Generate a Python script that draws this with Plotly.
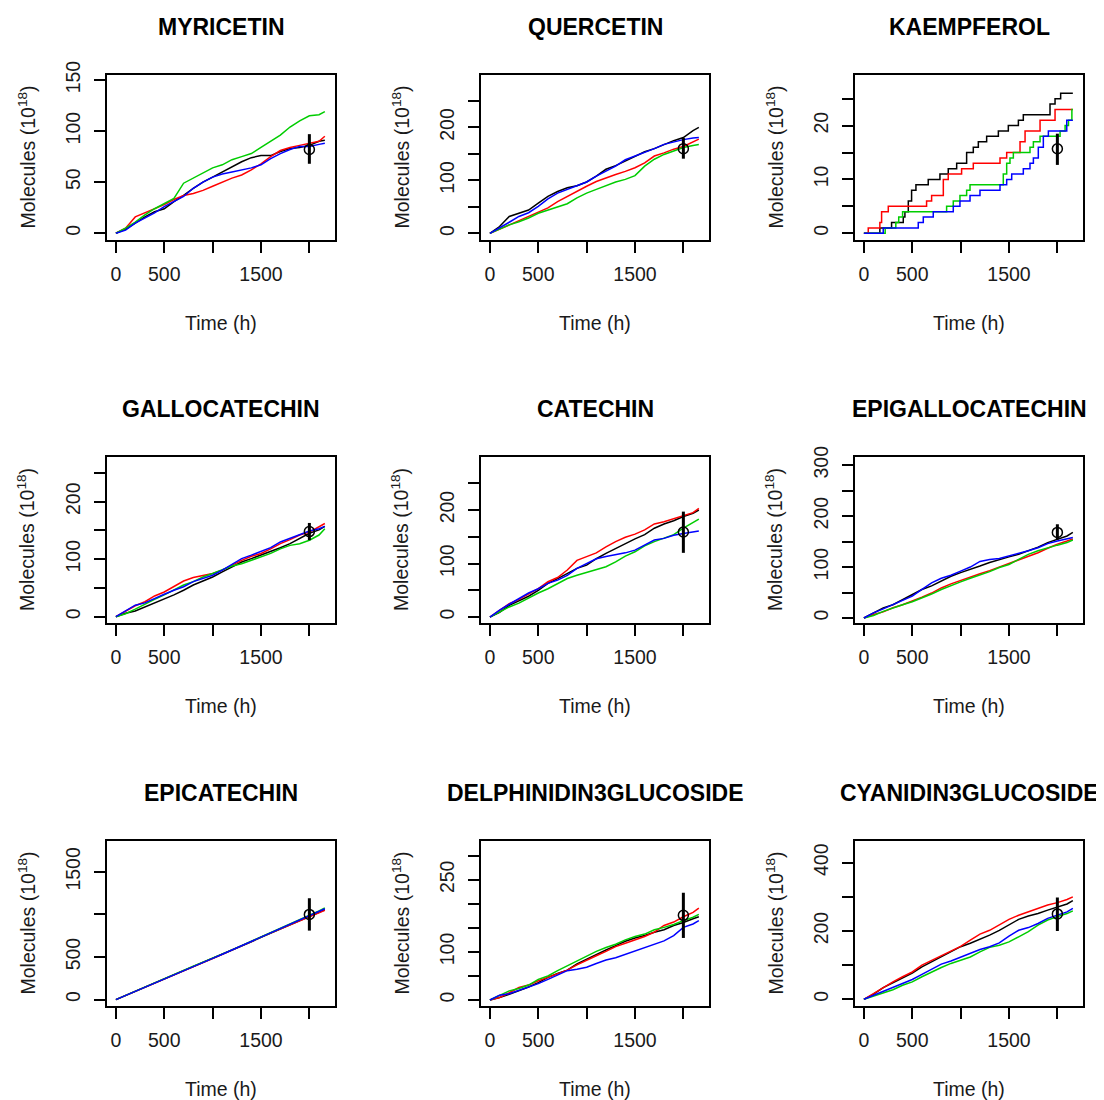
import plotly.graph_objects as go

# ---------------- data ----------------
compounds = ["MYRICETIN", "QUERCETIN", "KAEMPFEROL",
             "GALLOCATECHIN", "CATECHIN", "EPIGALLOCATECHIN",
             "EPICATECHIN", "DELPHINIDIN3GLUCOSIDE", "CYANIDIN3GLUCOSIDE"]

time_h = [0, 100, 200, 300, 400, 500, 600, 700, 800, 900, 1000, 1100,
          1200, 1300, 1400, 1500, 1600, 1700, 1800, 1900, 2000, 2100, 2160]

myricetin_black = [0, 4, 10, 16, 21, 24, 31, 37, 44, 50, 55, 60, 65, 70, 74, 76, 76, 80, 83, 84, 86, 90, 91]
myricetin_red   = [0, 5, 16, 20, 24, 28, 33, 37, 39, 42, 46, 50, 54, 57, 62, 68, 75, 81, 84, 86, 88, 90, 95]
myricetin_green = [0, 5, 11, 18, 24, 29, 34, 49, 54, 59, 64, 67, 72, 75, 78, 84, 90, 96, 104, 110, 115, 116, 119]
myricetin_blue  = [0, 3, 10, 15, 20, 26, 31, 36, 44, 50, 55, 58, 60, 62, 64, 67, 73, 78, 82, 85, 85, 87, 88]

quercetin_black = [0, 13, 32, 38, 44, 57, 70, 79, 86, 90, 97, 108, 121, 128, 137, 146, 154, 160, 168, 175, 181, 194, 200]
quercetin_red   = [0, 8, 16, 24, 32, 39, 48, 60, 70, 79, 89, 98, 105, 111, 117, 124, 133, 146, 152, 159, 164, 173, 178]
quercetin_green = [0, 8, 16, 22, 29, 38, 44, 51, 56, 67, 76, 83, 90, 97, 102, 109, 127, 140, 149, 156, 162, 166, 168]
quercetin_blue  = [0, 10, 21, 32, 39, 51, 65, 76, 83, 89, 97, 108, 117, 127, 139, 146, 152, 160, 168, 173, 177, 180, 181]

# kaempferol: integer step counts (time of change, new value)
kaempferol_black_t = [0, 165, 286, 407, 424, 459, 493, 538, 665, 786, 872, 959, 1062, 1131, 1183, 1269, 1390, 1493, 1597, 1648, 1924, 1976, 2034, 2160]
kaempferol_black_v = [0, 1, 2, 3, 4, 6, 8, 9, 10, 11, 12, 13, 15, 16, 17, 18, 19, 20, 21, 22, 24, 25, 26, 26]
kaempferol_red_t = [0, 45, 165, 183, 252, 648, 700, 821, 872, 1010, 1131, 1407, 1476, 1614, 1666, 1821, 1976, 2160]
kaempferol_red_v = [0, 1, 2, 4, 5, 6, 7, 10, 11, 12, 13, 14, 15, 17, 19, 21, 23, 23]
kaempferol_green_t = [0, 220, 330, 360, 400, 855, 924, 993, 1062, 1097, 1441, 1476, 1510, 1545, 1717, 1752, 1821, 2028, 2080, 2115, 2150, 2160]
kaempferol_green_v = [0, 1, 2, 3, 4, 5, 6, 7, 8, 9, 11, 13, 14, 15, 16, 17, 18, 19, 20, 21, 23, 23]
kaempferol_blue_t = [0, 200, 562, 614, 665, 717, 924, 993, 1097, 1200, 1407, 1476, 1528, 1648, 1717, 1752, 1803, 1855, 1907, 2097, 2160]
kaempferol_blue_v = [0, 1, 2, 3, 3, 4, 5, 6, 7, 8, 9, 10, 11, 12, 13, 14, 16, 18, 19, 21, 21]

gallocatechin_black = [0, 6, 10, 17, 24, 30, 38, 46, 55, 62, 69, 78, 87, 95, 101, 107, 113, 120, 127, 136, 145, 151, 157]
gallocatechin_red   = [0, 9, 19, 26, 36, 43, 52, 62, 68, 71, 75, 81, 90, 98, 105, 110, 118, 127, 134, 142, 147, 156, 162]
gallocatechin_green = [0, 5, 13, 22, 30, 38, 47, 55, 61, 69, 75, 82, 88, 92, 98, 103, 110, 118, 124, 127, 133, 142, 153]
gallocatechin_blue  = [0, 10, 20, 24, 32, 39, 46, 52, 61, 66, 72, 81, 91, 101, 107, 113, 120, 130, 136, 143, 149, 153, 157]

catechin_black = [0, 9, 22, 30, 39, 50, 63, 72, 81, 91, 97, 109, 119, 128, 138, 146, 154, 166, 174, 180, 188, 194, 200]
catechin_red   = [0, 13, 25, 33, 43, 53, 66, 74, 88, 106, 113, 120, 131, 141, 149, 155, 163, 174, 178, 184, 189, 195, 203]
catechin_green = [0, 9, 19, 26, 36, 45, 53, 63, 72, 78, 83, 88, 94, 103, 114, 122, 133, 141, 147, 154, 166, 176, 183]
catechin_blue  = [0, 13, 24, 34, 45, 53, 63, 69, 78, 91, 100, 109, 113, 116, 120, 125, 134, 144, 147, 153, 156, 159, 161]

epigallocatechin_black = [0, 10, 20, 26, 36, 46, 56, 63, 72, 82, 89, 95, 102, 109, 115, 120, 125, 132, 139, 148, 155, 161, 168]
epigallocatechin_red   = [0, 7, 12, 20, 26, 33, 41, 49, 59, 67, 74, 80, 87, 93, 100, 107, 115, 122, 128, 137, 145, 151, 155]
epigallocatechin_green = [0, 5, 13, 20, 26, 32, 39, 47, 56, 64, 71, 78, 84, 91, 99, 105, 115, 125, 132, 138, 143, 148, 153]
epigallocatechin_blue  = [0, 10, 18, 26, 34, 43, 56, 69, 78, 84, 92, 100, 111, 115, 117, 122, 126, 132, 138, 146, 151, 155, 158]

epicatechin_black = [0, 48, 95, 143, 194, 246, 292, 340, 386, 432, 480, 528, 578, 628, 680, 732, 782, 830, 880, 930, 975, 1025, 1055]
epicatechin_red   = [0, 49, 97, 146, 197, 248, 296, 345, 390, 436, 482, 530, 580, 630, 681, 733, 782, 829, 877, 925, 972, 1018, 1047]
epicatechin_green = [0, 50, 98, 148, 198, 250, 298, 346, 393, 440, 486, 534, 584, 634, 684, 735, 785, 834, 884, 934, 982, 1040, 1078]
epicatechin_blue  = [0, 49, 97, 146, 196, 248, 296, 344, 391, 438, 484, 532, 582, 632, 683, 734, 784, 833, 882, 932, 980, 1035, 1066]

delphinidin_black = [0, 5, 12, 19, 27, 36, 47, 55, 62, 75, 85, 94, 104, 113, 122, 129, 134, 141, 146, 155, 161, 169, 173]
delphinidin_red   = [0, 5, 15, 26, 31, 40, 47, 54, 62, 73, 83, 92, 101, 111, 118, 125, 132, 141, 155, 162, 173, 182, 191]
delphinidin_green = [0, 10, 19, 24, 31, 43, 50, 61, 71, 81, 90, 101, 109, 116, 125, 132, 137, 146, 151, 157, 165, 172, 178]
delphinidin_blue  = [0, 10, 13, 20, 26, 34, 43, 52, 61, 64, 68, 76, 83, 88, 95, 101, 109, 116, 123, 134, 151, 158, 165]

cyanidin_black = [0, 15, 34, 49, 64, 77, 95, 110, 126, 139, 154, 164, 175, 188, 202, 217, 234, 244, 251, 261, 269, 279, 289]
cyanidin_red   = [0, 17, 36, 51, 66, 80, 100, 114, 129, 142, 155, 173, 191, 202, 217, 234, 246, 256, 266, 276, 283, 292, 300]
cyanidin_green = [0, 9, 19, 28, 41, 51, 66, 80, 93, 105, 114, 124, 139, 152, 158, 168, 183, 198, 217, 232, 242, 251, 259]
cyanidin_blue  = [0, 12, 22, 36, 48, 58, 73, 87, 103, 112, 124, 136, 146, 154, 165, 185, 202, 210, 222, 237, 246, 256, 266]

# observed value at t = 2000 h: mean, lower, upper
obs_time = 2000
obs_mean = [82, 160, 15.7, 148, 159, 168, 1000, 176, 250]
obs_low  = [68, 141, 12.7, 133, 120, 154, 810, 129, 200]
obs_high = [97, 180, 18.5, 163, 197, 184, 1190, 223, 298]

# labelled ticks; unlabelled ticks come from the tick step
x_tickvals = [0, 500, 1500]
x_tick_step = 500
y_tickvals = [
    [0, 50, 100, 150],
    [0, 100, 200],
    [0, 10, 20],
    [0, 100, 200],
    [0, 100, 200],
    [0, 100, 200, 300],
    [0, 500, 1500],
    [0, 100, 250],
    [0, 200, 400],
]
y_tick_step = [50, 50, 5, 50, 50, 50, 500, 50, 100]
y_ranges = [
    [-6.6, 154.9], [-12.5, 299.0], [-1.25, 29.4],
    [-11.0, 277.7], [-11.0, 299.0], [-9.8, 316.0],
    [-75, 1862], [-12.5, 330.6], [-19.6, 463.4],
]
x_range = [-92, 2265]

series = [
    (myricetin_black, myricetin_red, myricetin_green, myricetin_blue),
    (quercetin_black, quercetin_red, quercetin_green, quercetin_blue),
    None,
    (gallocatechin_black, gallocatechin_red, gallocatechin_green, gallocatechin_blue),
    (catechin_black, catechin_red, catechin_green, catechin_blue),
    (epigallocatechin_black, epigallocatechin_red, epigallocatechin_green, epigallocatechin_blue),
    (epicatechin_black, epicatechin_red, epicatechin_green, epicatechin_blue),
    (delphinidin_black, delphinidin_red, delphinidin_green, delphinidin_blue),
    (cyanidin_black, cyanidin_red, cyanidin_green, cyanidin_blue),
]
kaempferol_steps = [
    (kaempferol_black_t, kaempferol_black_v),
    (kaempferol_red_t, kaempferol_red_v),
    (kaempferol_green_t, kaempferol_green_v),
    (kaempferol_blue_t, kaempferol_blue_v),
]

# ---------------- layout ----------------
OFF_X, OFF_Y = 8, 8            # page (body) offset of the figure div
W, H = 1104 - OFF_X, 1100 - OFF_Y
col_px = [(107, 335), (481, 709), (855, 1083)]
row_px = [(75, 240), (457, 623), (841, 1006)]
colors = ["#000000", "#FF0000", "#00CD00", "#0000FF"]
FONT = "Liberation Sans, Arial, Helvetica, sans-serif"
TXT = "#1a1a1a"

fig = go.Figure()
layout_axes = {}
annotations = []

for i, name in enumerate(compounds):
    r, c = divmod(i, 3)
    n = i + 1
    xa = "x" if n == 1 else f"x{n}"
    ya = "y" if n == 1 else f"y{n}"
    x0, x1 = (v - OFF_X for v in col_px[c])
    y0, y1 = (v - OFF_Y for v in row_px[r])
    xdom = [x0 / W, x1 / W]
    ydom = [1 - y1 / H, 1 - y0 / H]

    if series[i] is not None:
        for vals, col in zip(series[i], colors):
            fig.add_trace(go.Scatter(x=time_h, y=vals, mode="lines",
                                     line=dict(color=col, width=1.5),
                                     xaxis=xa, yaxis=ya, showlegend=False,
                                     hoverinfo="skip"))
    else:
        for (tt, vv), col in zip(kaempferol_steps, colors):
            fig.add_trace(go.Scatter(x=tt, y=vv, mode="lines",
                                     line=dict(color=col, width=1.5, shape="hv"),
                                     xaxis=xa, yaxis=ya, showlegend=False,
                                     hoverinfo="skip"))

    fig.add_trace(go.Scatter(
        x=[obs_time], y=[obs_mean[i]], mode="markers",
        marker=dict(symbol="circle-open", size=10, color="black",
                    line=dict(width=1.5, color="black")),
        error_y=dict(type="data", symmetric=False,
                     array=[obs_high[i] - obs_mean[i]],
                     arrayminus=[obs_mean[i] - obs_low[i]],
                     color="black", thickness=3, width=0),
        xaxis=xa, yaxis=ya, showlegend=False, hoverinfo="skip"))

    common = dict(showline=True, mirror=True, linecolor="black", linewidth=1.5,
                  ticks="outside", ticklen=11, tickwidth=1.5, tickcolor="black",
                  showgrid=False, zeroline=False, automargin=False,
                  tickfont=dict(family=FONT, size=19.5, color=TXT))
    layout_axes["xaxis" if n == 1 else f"xaxis{n}"] = dict(
        domain=xdom, anchor=ya, range=x_range,
        tickmode="array", tickvals=x_tickvals,
        minor=dict(tick0=0, dtick=x_tick_step, ticks="outside", ticklen=11,
                   tickwidth=1.5, tickcolor="black", showgrid=False),
        ticklabelstandoff=5, **common)
    layout_axes["yaxis" if n == 1 else f"yaxis{n}"] = dict(
        domain=ydom, anchor=xa, range=y_ranges[i],
        tickmode="array", tickvals=y_tickvals[i],
        minor=dict(tick0=0, dtick=y_tick_step[i], ticks="outside", ticklen=11,
                   tickwidth=1.5, tickcolor="black", showgrid=False),
        tickangle=-90, ticklabelstandoff=6, **common)

    dom_x = f"{xa} domain"
    dom_y = f"{ya} domain"
    annotations.append(dict(text=f"<b>{name}</b>", xref=dom_x, yref=dom_y,
                            x=0.5, y=1, yshift=48, xanchor="center", yanchor="middle",
                            showarrow=False,
                            font=dict(family=FONT, size=23, color="black")))
    annotations.append(dict(text="Time (h)", xref=dom_x, yref=dom_y,
                            x=0.5, y=0, yshift=-83, xanchor="center", yanchor="middle",
                            showarrow=False,
                            font=dict(family=FONT, size=19.5, color=TXT)))
    annotations.append(dict(text="Molecules (10<sup>18</sup>)", xref=dom_x, yref=dom_y,
                            x=0, xshift=-81, y=0.5, xanchor="center", yanchor="middle",
                            textangle=-90, showarrow=False,
                            font=dict(family=FONT, size=19.5, color=TXT)))

fig.update_layout(width=W, height=H, autosize=False,
                  margin=dict(l=0, r=0, t=0, b=0, autoexpand=False),
                  paper_bgcolor="white", plot_bgcolor="white",
                  annotations=annotations, **layout_axes)

fig.write_html("out.html")
